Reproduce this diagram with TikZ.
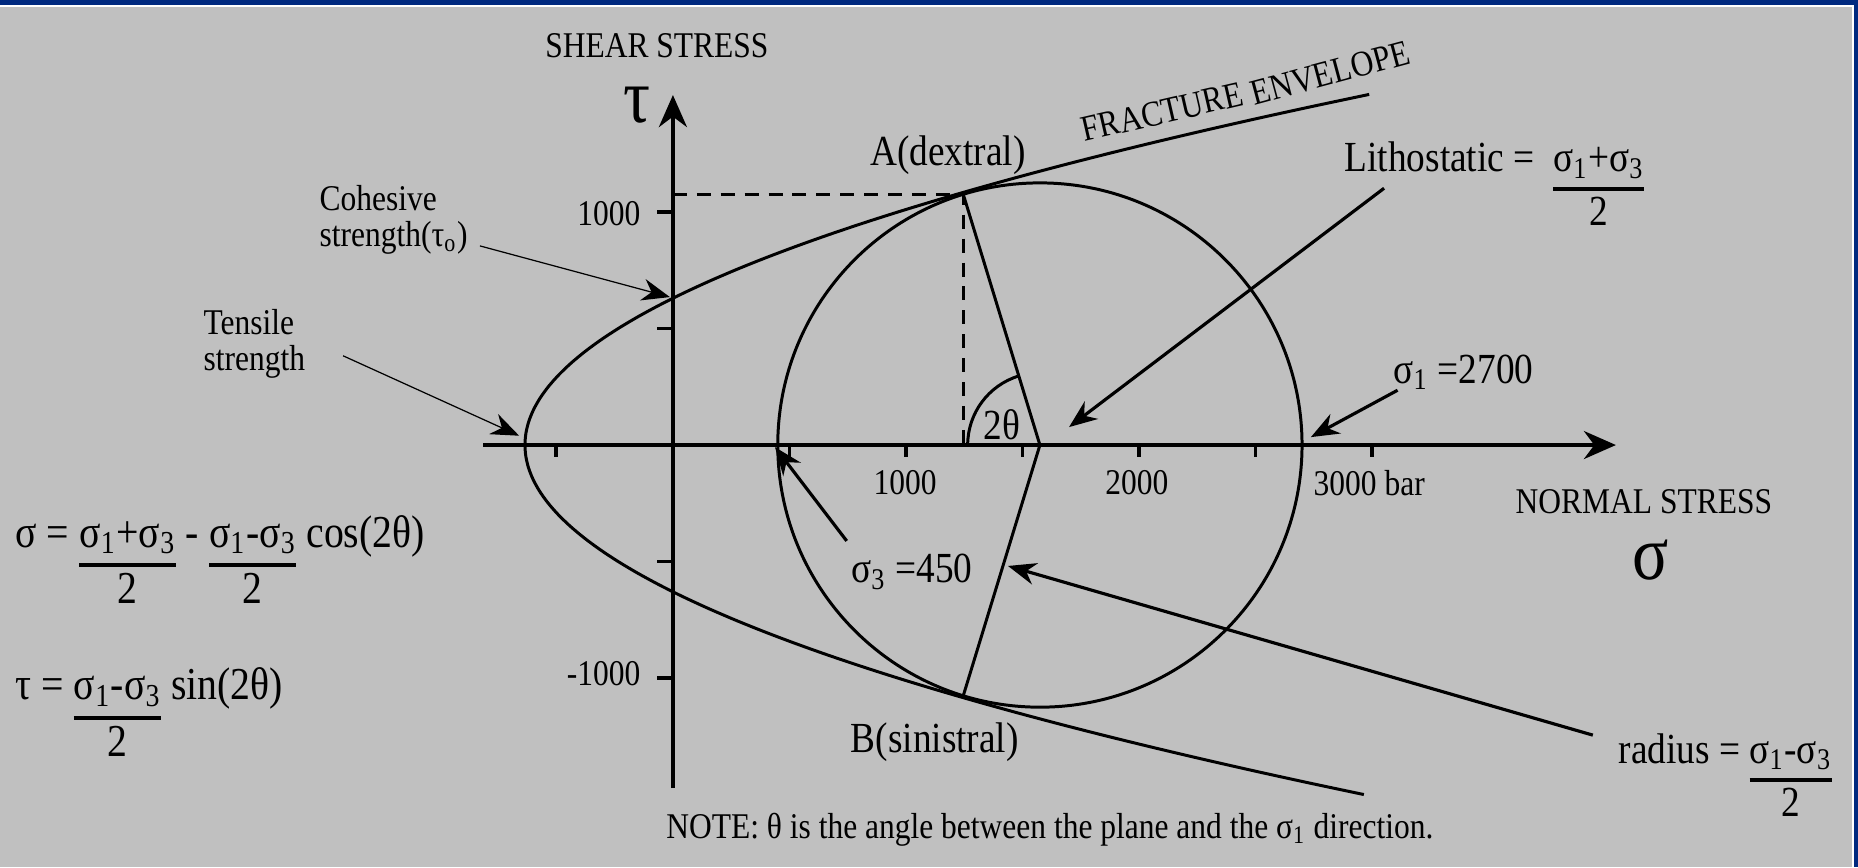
\documentclass[tikz,border=0pt]{standalone}
\usepackage{fontspec}
\setmainfont{Liberation Serif}[FakeStretch=0.87]
\usetikzlibrary{arrows.meta,positioning,calc}
\definecolor{slidegray}{HTML}{C0C0C0}
\definecolor{slideblue}{HTML}{00297F}
\setlength{\arrayrulewidth}{1.1pt}
\newcommand{\sig}[1]{σ\textsubscript{#1}}
\newcommand{\halve}[1]{\begin{tabular}[t]{@{}c@{}}#1\\\hline 2\end{tabular}}

\begin{document}
\begin{tikzpicture}[x=2.33cm, y=2.33cm, font=\fontsize{10.3}{10.3}\selectfont,
  every node/.style={inner sep=0pt},
  axis/.style={line width=1.1pt, -{Stealth[length=3.2mm,width=2.8mm]}},
  tick/.style={line width=1.1pt},
  curve/.style={line width=0.85pt},
  guide/.style={line width=0.85pt, dash pattern=on 4pt off 2.8pt},
  pointer/.style={line width=0.9pt, -{Stealth[length=2.8mm,width=2.2mm]}},
  thinpointer/.style={line width=0.35pt, -{Stealth[length=2.8mm,width=2.2mm]}},
  biglabel/.style={font=\fontsize{12.2}{14}\selectfont},
  eqn/.style={font=\fontsize{13}{15}\selectfont},
  axisletter/.style={font=\fontsize{22}{24}\selectfont}]
% slide frame
\fill[slideblue] (-2.888,-1.811) rectangle (5.086,1.910);
\fill[white] (-2.888,-1.811) rectangle (5.069,1.888);
\fill[slidegray] (-2.888,-1.811) rectangle (5.060,1.880);
\useasboundingbox (-2.888,-1.811) rectangle (5.086,1.910);

\coordinate (O) at (0,0);
\coordinate (C) at (1.575,0);
\coordinate (A) at ($(C)+(107:1.125)$);
\coordinate (B) at ($(C)+(253:1.125)$);
\coordinate (T0) at (-0.013,0.635);
\coordinate (Tt) at (-0.66,0.04);
\coordinate (L) at (1.70,0.077);
\coordinate (S1) at (2.738,0.034);
\coordinate (S3) at (0.438,-0.009);
\coordinate (R) at (1.438,-0.519);

% axes and ticks
\draw[axis] (-0.815,0) -- (4.047,0);
\draw[axis] (0,-1.472) -- (0,1.502);
\foreach \s in {-0.5,0.5,1.0,1.5,2.0,2.5,3.0}
  \draw[tick] (\s,0) -- (\s,-0.05);
\foreach \t in {-1.0,-0.5,0.5,1.0}
  \draw[tick] (0,\t) -- (-0.07,\t);

\node (x1000) at (0.996,-0.163) {1000};
\node (x2000) at (1.991,-0.163) {2000};
\node[anchor=west] (x3000) at (2.747,-0.163) {3000 bar};
\node[anchor=east] (y1000) at (-0.137,0.991) {1000};
\node[anchor=east] (ym1000) at (-0.137,-0.979) {-1000};

\node (shear) at (-0.069,1.712) {SHEAR STRESS};
\node[axisletter] (taulabel) at (-0.155,1.459) {τ};
\node (normal) at (4.167,-0.245) {NORMAL STRESS};
\node[axisletter] (siglabel) at (4.197,-0.494) {σ};

% envelope and Mohr circle
\draw[curve] plot[domain=-1.5:1.505, samples=61, smooth] ({\x*\x/0.625-0.635},\x);
\node[rotate=13] (fracture) at (2.10,1.43) {FRACTURE};
\node[rotate=15] (envelope) at (2.82,1.596) {ENVELOPE};
\draw[curve] (C) circle[radius=1.125];
\draw[curve] (A) -- (C) -- (B);
\draw[guide] (O |- A) -- (A) -- (A |- O);
\draw[curve] ([shift={(180:0.31)}]C) arc[start angle=180, end angle=107, radius=0.31];
\node[biglabel] (twotheta) at (1.412,0.086) {2θ};

\node[biglabel] (dex) at (1.180,1.245) {A(dextral)};
\node[biglabel] (sin) at (1.124,-1.275) {B(sinistral)};

\node[align=left, anchor=west] (cohesive) at (-1.519,0.966) {Cohesive\\strength(τ\textsubscript{o})};
\node[align=left, anchor=west] (tensile) at (-2.017,0.433) {Tensile\\strength};
\draw[thinpointer] ([shift={(0.05,0.04)}]cohesive.south east) -- (T0);
\draw[thinpointer] ([shift={(0.16,-0.05)}]tensile.east) -- (Tt);

\node[biglabel, anchor=base west] (litho) at (2.880,1.172) {Lithostatic = \ \halve{\sig{1}+\sig{3}}};
\node[biglabel, anchor=west] (sig1) at (3.09,0.313) {\sig{1} =2700};
\node[biglabel] (sig3) at (1.026,-0.545) {\sig{3} =450};
\node[biglabel, anchor=base west] (radius) at (4.056,-1.365) {radius = \halve{\sig{1}-\sig{3}}};
\draw[pointer] ([shift={(0.172,-0.07)}]litho.base west) -- (L);
\draw[pointer] ([shift={(0.02,0)}]sig1.south west) -- (S1);
\draw[pointer] ([shift={(-0.017,0.055)}]sig3.north west) -- (S3);
\draw[pointer] ([shift={(-0.108,0.12)}]radius.base west) -- (R);

% formulas
\node[eqn, anchor=base west] (eqsig) at (-2.824,-0.438) {σ = \halve{\sig{1}+\sig{3}} - \halve{\sig{1}-\sig{3}} cos(2θ)};
\node[eqn, anchor=base west] (eqtau) at (-2.824,-1.094) {τ = \halve{\sig{1}-\sig{3}} sin(2θ)};

\node (note) at (1.618,-1.652) {NOTE: θ is the angle between the plane and the \sig{1} direction.};
\end{tikzpicture}
\end{document}
